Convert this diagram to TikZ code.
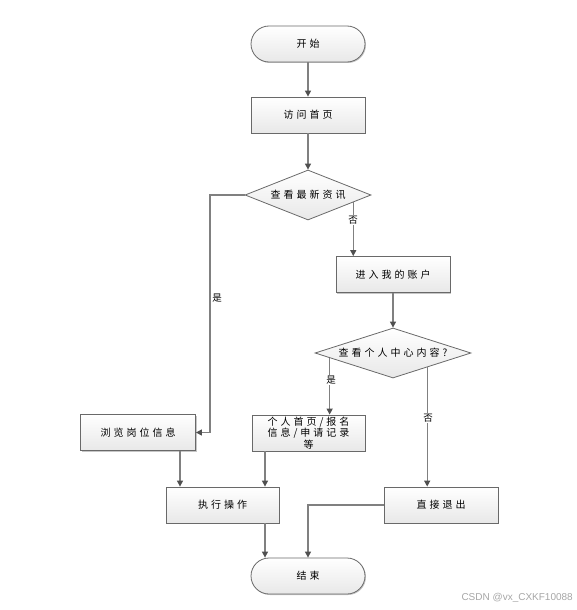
\documentclass[tikz,border=0pt]{standalone}
\usepackage{fontspec}
\newfontfamily\cjk[LetterSpace=30]{Noto Sans CJK SC}
\newfontfamily\wm{Liberation Sans}
\usetikzlibrary{arrows.meta,shapes.geometric,shadows,calc}
\definecolor{boxline}{RGB}{105,105,105}
\definecolor{lin}{RGB}{128,128,128}
\definecolor{tipc}{RGB}{80,80,80}
\definecolor{boxbot}{RGB}{232,232,232}
\begin{document}
\begin{tikzpicture}[x=1pt,y=-1pt,
  txt/.style={font=\cjk\fontsize{10}{12}\selectfont, text=black},
  stepbox/.style={txt, draw=boxline, line width=0.8pt, top color=white, bottom color=boxbot,
    minimum width=114pt, minimum height=36pt, inner sep=1pt, align=center,
    drop shadow={shadow xshift=1pt, shadow yshift=-1pt, fill=gray!45, opacity=1}},
  term/.style={stepbox, rounded corners=18pt},
  decision/.style={txt, shape=diamond, draw=boxline, line width=0.8pt, top color=white, bottom color=boxbot,
    inner sep=0pt, aspect=2.8},
  arr/.style={draw=lin, line width=1.2pt, -{Triangle[length=6pt,width=6pt,color=tipc]}},
  lbl/.style={txt, fill=white, inner sep=1pt, font=\cjk\fontsize{9.5}{11}\selectfont}
]
\useasboundingbox (0,0) rectangle (576,610);

\node[term] (start) at (308,44) {开始};
\node[stepbox] (visit) at (308,115) {访问首页};
\node[decision, minimum width=126pt, minimum height=50pt] (d1) at (308,195) {查看最新资讯};
\node[stepbox] (acc) at (393,274.5) {进入我的账户};
\node[decision, minimum width=156pt, minimum height=50pt] (d2) at (393,353) {查看个人中心内容?};
\node[stepbox, minimum width=115pt] (browse) at (138,432.5) {浏览岗位信息};
\node[stepbox, minimum width=113pt, font=\cjk\fontsize{10}{11.5}\selectfont] (pers) at (308.5,433) {个人首页/报名\\信息/申请记录\\等};
\node[stepbox, minimum width=113pt] (exec) at (222.5,505) {执行操作};
\node[stepbox] (exit) at (441,505) {直接退出};
\node[term] (end) at (308,576) {结束};

% connectors
\draw[arr] (start) -- (visit);
\draw[arr] (visit) -- (d1);
\coordinate (c1) at (210,195);
\draw[arr] (d1.west) -- (c1) |- (browse.east);
\node[lbl] (yes1) at (217,298) {是};

\coordinate (p1) at ($(d1.east)!0.286!(d1.south)$);
\draw[arr] (p1) -- (p1 |- acc.north);
\node[lbl] (no1) at (353,220) {否};

\draw[arr] (acc) -- (d2);

\coordinate (p2) at ($(d2.west)!0.192!(d2.south)$);
\draw[arr] (p2) -- (p2 |- pers.north);
\node[lbl] (yes2) at (331,380) {是};

\coordinate (p3) at ($(d2.east)!0.564!(d2.south)$);
\draw[arr] (p3) -- (p3 |- exit.north);
\node[lbl] (no2) at (428,418) {否};

\coordinate (b1) at ([xshift=42pt]browse.south);
\draw[arr] (b1) -- (b1 |- exec.north);
\coordinate (b2) at ([xshift=-43.5pt]pers.south);
\draw[arr] (b2) -- (b2 |- exec.north);
\coordinate (b3) at ([xshift=42.5pt]exec.south);
\draw[arr] (b3) -- (b3 |- end.north);
\draw[arr] (exit.west) -| (end.north);

\node[font=\wm\fontsize{10}{12}\selectfont, text=gray!70, anchor=east, inner sep=0pt] (mark) at (573,598) {CSDN @vx\_CXKF10088};
\end{tikzpicture}
\end{document}
